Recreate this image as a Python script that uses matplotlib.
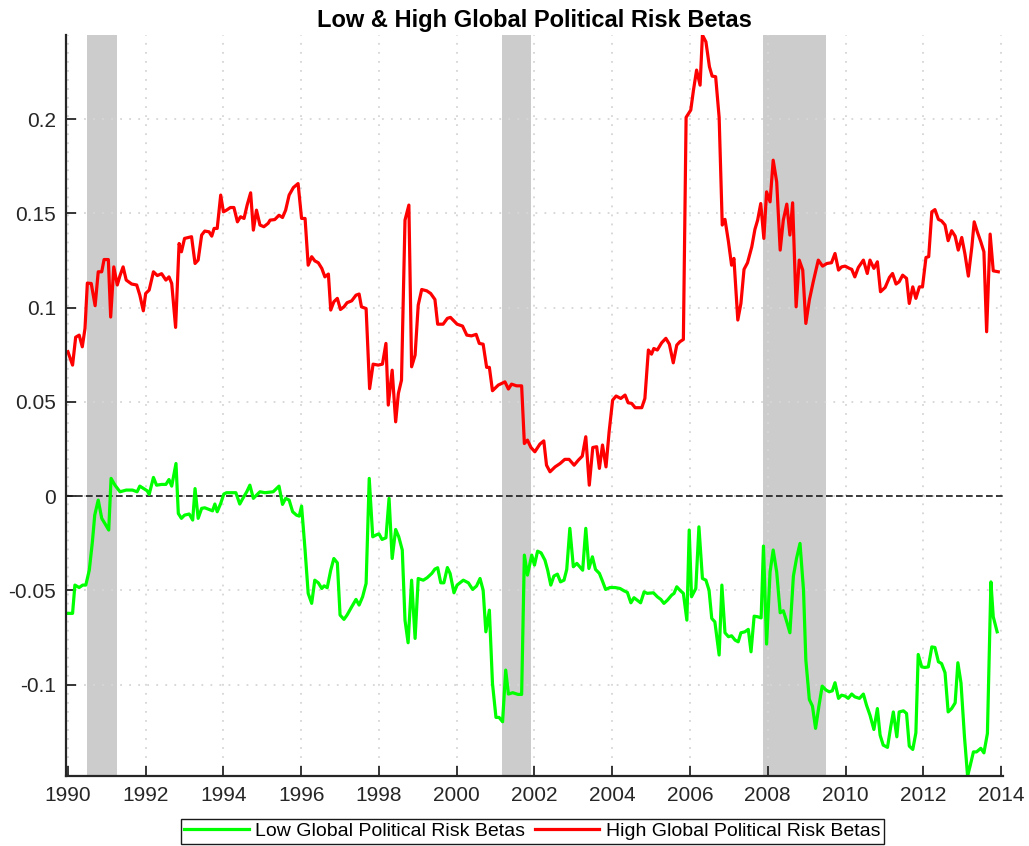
#!/usr/bin/env python3
# -*- coding: utf-8 -*-
"""
Low & High Global Political Risk Betas, 1990-2014
usage: python plot.py   (writes out.png)
"""

import matplotlib
matplotlib.use("Agg")
import matplotlib.pyplot as plt
import numpy as np

#-- Low global political risk betas (time in years, beta)
low_t = [1990.00, 1990.12, 1990.18, 1990.29, 1990.38, 1990.46, 1990.55, 1990.63, 1990.69, 1990.78,
         1990.87, 1990.95, 1991.05, 1991.11, 1991.21, 1991.34, 1991.50, 1991.66, 1991.78, 1991.85,
         1991.95, 1992.04, 1992.09, 1992.20, 1992.28, 1992.41, 1992.52, 1992.60, 1992.67, 1992.78,
         1992.84, 1992.92, 1993.00, 1993.12, 1993.21, 1993.27, 1993.35, 1993.44, 1993.52, 1993.63,
         1993.72, 1993.78, 1993.84, 1993.93, 1994.01, 1994.08, 1994.32, 1994.42, 1994.50, 1994.60,
         1994.68, 1994.77, 1994.85, 1994.94, 1995.07, 1995.28, 1995.43, 1995.52, 1995.60, 1995.69,
         1995.78, 1995.88, 1995.95, 1996.01, 1996.10, 1996.18, 1996.27, 1996.35, 1996.44, 1996.53,
         1996.59, 1996.67, 1996.76, 1996.84, 1996.93, 1997.00, 1997.10, 1997.18, 1997.30, 1997.41,
         1997.49, 1997.58, 1997.67, 1997.75, 1997.84, 1997.92, 1998.00, 1998.08, 1998.18, 1998.26,
         1998.34, 1998.43, 1998.51, 1998.60, 1998.67, 1998.75, 1998.84, 1998.93, 1999.01, 1999.14,
         1999.24, 1999.36, 1999.44, 1999.51, 1999.59, 1999.67, 1999.76, 1999.83, 1999.93, 2000.01,
         2000.17, 2000.30, 2000.41, 2000.51, 2000.60, 2000.68, 2000.75, 2000.84, 2000.92, 2001.01,
         2001.09, 2001.18, 2001.26, 2001.33, 2001.44, 2001.58, 2001.67, 2001.74, 2001.82, 2001.93,
         2002.00, 2002.08, 2002.17, 2002.27, 2002.34, 2002.42, 2002.50, 2002.59, 2002.67, 2002.76,
         2002.83, 2002.91, 2003.00, 2003.09, 2003.24, 2003.32, 2003.40, 2003.49, 2003.57, 2003.67,
         2003.74, 2003.83, 2003.94, 2004.07, 2004.20, 2004.30, 2004.39, 2004.48, 2004.56, 2004.64,
         2004.73, 2004.82, 2004.90, 2005.06, 2005.16, 2005.25, 2005.33, 2005.42, 2005.53, 2005.59,
         2005.66, 2005.74, 2005.83, 2005.92, 2005.98, 2006.04, 2006.15, 2006.23, 2006.32, 2006.41,
         2006.49, 2006.56, 2006.64, 2006.75, 2006.82, 2006.90, 2006.99, 2007.07, 2007.16, 2007.24,
         2007.31, 2007.41, 2007.50, 2007.57, 2007.65, 2007.74, 2007.83, 2007.89, 2007.97, 2008.06,
         2008.14, 2008.23, 2008.32, 2008.40, 2008.49, 2008.57, 2008.66, 2008.74, 2008.83, 2008.92,
         2008.98, 2009.07, 2009.15, 2009.23, 2009.32, 2009.40, 2009.50, 2009.58, 2009.66, 2009.73,
         2009.82, 2009.90, 2009.99, 2010.07, 2010.16, 2010.24, 2010.36, 2010.46, 2010.54, 2010.63,
         2010.73, 2010.82, 2010.89, 2010.97, 2011.08, 2011.16, 2011.23, 2011.32, 2011.38, 2011.49,
         2011.57, 2011.64, 2011.73, 2011.81, 2011.87, 2011.96, 2012.04, 2012.13, 2012.22, 2012.30,
         2012.39, 2012.47, 2012.56, 2012.64, 2012.73, 2012.82, 2012.89, 2012.97, 2013.06, 2013.14,
         2013.20, 2013.29, 2013.37, 2013.48, 2013.56, 2013.65, 2013.74, 2013.80, 2013.90]
low_beta = [-0.0622, -0.0622, -0.0472, -0.0485, -0.0472, -0.0472, -0.0393, -0.0242, -0.0101, -0.0021,
            -0.0118, -0.0145, -0.0180, 0.0094, 0.0058, 0.0023, 0.0032, 0.0032, 0.0023, 0.0053,
            0.0040, 0.0028, 0.0009, 0.0099, 0.0058, 0.0062, 0.0062, 0.0088, 0.0053, 0.0173,
            -0.0092, -0.0118, -0.0101, -0.0095, -0.0127, 0.0040, -0.0118, -0.0065, -0.0062, -0.0071,
            -0.0078, -0.0042, -0.0083, -0.0039, 0.0011, 0.0018, 0.0018, -0.0042, -0.0012, 0.0023,
            0.0058, -0.0012, 0.0005, 0.0023, 0.0018, 0.0023, 0.0053, -0.0044, -0.0012, -0.0021,
            -0.0083, -0.0101, -0.0106, -0.0053, -0.0286, -0.0516, -0.0569, -0.0446, -0.0460, -0.0490,
            -0.0476, -0.0486, -0.0393, -0.0331, -0.0354, -0.0631, -0.0654, -0.0631, -0.0587, -0.0548,
            -0.0578, -0.0534, -0.0463, 0.0094, -0.0216, -0.0207, -0.0200, -0.0230, -0.0221, -0.0012,
            -0.0331, -0.0177, -0.0216, -0.0286, -0.0658, -0.0778, -0.0446, -0.0755, -0.0437, -0.0446,
            -0.0433, -0.0410, -0.0387, -0.0380, -0.0460, -0.0460, -0.0379, -0.0410, -0.0513, -0.0472,
            -0.0446, -0.0460, -0.0495, -0.0477, -0.0437, -0.0499, -0.0720, -0.0605, -0.0994, -0.1174,
            -0.1174, -0.1197, -0.0923, -0.1050, -0.1043, -0.1052, -0.1052, -0.0313, -0.0419, -0.0313,
            -0.0366, -0.0292, -0.0301, -0.0340, -0.0393, -0.0472, -0.0424, -0.0414, -0.0455, -0.0446,
            -0.0389, -0.0171, -0.0375, -0.0357, -0.0393, -0.0171, -0.0384, -0.0322, -0.0389, -0.0410,
            -0.0446, -0.0495, -0.0485, -0.0485, -0.0490, -0.0502, -0.0511, -0.0566, -0.0539, -0.0552,
            -0.0566, -0.0508, -0.0516, -0.0513, -0.0534, -0.0548, -0.0569, -0.0552, -0.0525, -0.0516,
            -0.0481, -0.0499, -0.0516, -0.0658, -0.0180, -0.0534, -0.0490, -0.0163, -0.0437, -0.0446,
            -0.0499, -0.0649, -0.0667, -0.0843, -0.0472, -0.0725, -0.0746, -0.0741, -0.0764, -0.0773,
            -0.0725, -0.0720, -0.0707, -0.0826, -0.0637, -0.0640, -0.0646, -0.0265, -0.0785, -0.0402,
            -0.0286, -0.0402, -0.0619, -0.0608, -0.0667, -0.0725, -0.0424, -0.0331, -0.0251, -0.0499,
            -0.0870, -0.1079, -0.1114, -0.1232, -0.1109, -0.1008, -0.1029, -0.1038, -0.1033, -0.0990,
            -0.1073, -0.1056, -0.1061, -0.1073, -0.1050, -0.1065, -0.1073, -0.1050, -0.1109, -0.1162,
            -0.1238, -0.1127, -0.1268, -0.1321, -0.1333, -0.1228, -0.1145, -0.1277, -0.1145, -0.1139,
            -0.1153, -0.1326, -0.1344, -0.1256, -0.0840, -0.0906, -0.0909, -0.0906, -0.0800, -0.0803,
            -0.0879, -0.0888, -0.0937, -0.1145, -0.1127, -0.1097, -0.0884, -0.0990, -0.1277, -0.1485,
            -0.1436, -0.1357, -0.1357, -0.1338, -0.1362, -0.1259, -0.0455, -0.0640, -0.0720]

#-- High global political risk betas (time in years, beta)
high_t = [1990.00, 1990.12, 1990.20, 1990.29, 1990.37, 1990.44, 1990.50, 1990.60, 1990.70, 1990.78,
          1990.87, 1990.93, 1991.04, 1991.10, 1991.18, 1991.27, 1991.34, 1991.42, 1991.50, 1991.64,
          1991.77, 1991.85, 1991.94, 1992.00, 1992.09, 1992.20, 1992.30, 1992.41, 1992.52, 1992.60,
          1992.67, 1992.77, 1992.86, 1992.92, 1993.00, 1993.18, 1993.27, 1993.35, 1993.44, 1993.52,
          1993.63, 1993.70, 1993.76, 1993.84, 1993.93, 1994.00, 1994.08, 1994.18, 1994.27, 1994.36,
          1994.44, 1994.53, 1994.61, 1994.70, 1994.77, 1994.85, 1994.94, 1995.04, 1995.15, 1995.20,
          1995.32, 1995.43, 1995.52, 1995.60, 1995.69, 1995.80, 1995.92, 1996.01, 1996.10, 1996.18,
          1996.27, 1996.35, 1996.44, 1996.53, 1996.61, 1996.70, 1996.76, 1996.84, 1996.93, 1997.01,
          1997.10, 1997.18, 1997.30, 1997.41, 1997.49, 1997.55, 1997.67, 1997.76, 1997.85, 1997.98,
          1998.09, 1998.18, 1998.24, 1998.34, 1998.43, 1998.50, 1998.58, 1998.67, 1998.77, 1998.84,
          1998.93, 1999.01, 1999.10, 1999.23, 1999.33, 1999.44, 1999.51, 1999.65, 1999.76, 1999.84,
          2000.01, 2000.15, 2000.26, 2000.38, 2000.50, 2000.58, 2000.68, 2000.77, 2000.84, 2000.92,
          2001.07, 2001.24, 2001.33, 2001.41, 2001.54, 2001.67, 2001.74, 2001.82, 2001.91, 2002.01,
          2002.14, 2002.24, 2002.31, 2002.40, 2002.53, 2002.66, 2002.78, 2002.89, 2003.02, 2003.13,
          2003.23, 2003.32, 2003.41, 2003.50, 2003.60, 2003.67, 2003.75, 2003.84, 2003.92, 2004.01,
          2004.10, 2004.22, 2004.33, 2004.41, 2004.50, 2004.59, 2004.76, 2004.84, 2004.93, 2005.01,
          2005.07, 2005.16, 2005.27, 2005.38, 2005.47, 2005.57, 2005.66, 2005.74, 2005.83, 2005.90,
          2006.02, 2006.09, 2006.17, 2006.26, 2006.32, 2006.41, 2006.50, 2006.57, 2006.66, 2006.75,
          2006.83, 2006.90, 2006.99, 2007.07, 2007.13, 2007.23, 2007.31, 2007.39, 2007.48, 2007.59,
          2007.67, 2007.74, 2007.82, 2007.90, 2007.97, 2008.06, 2008.14, 2008.23, 2008.32, 2008.40,
          2008.49, 2008.57, 2008.64, 2008.73, 2008.81, 2008.90, 2008.98, 2009.07, 2009.17, 2009.30,
          2009.41, 2009.52, 2009.64, 2009.73, 2009.82, 2009.90, 2009.99, 2010.10, 2010.16, 2010.24,
          2010.33, 2010.46, 2010.56, 2010.63, 2010.73, 2010.82, 2010.90, 2011.02, 2011.13, 2011.21,
          2011.30, 2011.38, 2011.47, 2011.57, 2011.64, 2011.73, 2011.81, 2011.90, 2011.98, 2012.07,
          2012.14, 2012.22, 2012.30, 2012.39, 2012.47, 2012.56, 2012.64, 2012.73, 2012.82, 2012.90,
          2012.99, 2013.07, 2013.16, 2013.25, 2013.31, 2013.39, 2013.48, 2013.56, 2013.63, 2013.72,
          2013.80, 2013.93]
high_beta = [0.0766, 0.0695, 0.0843, 0.0854, 0.0792, 0.0890, 0.1130, 0.1128, 0.1010, 0.1190,
             0.1190, 0.1255, 0.1255, 0.0950, 0.1216, 0.1120, 0.1170, 0.1216, 0.1146, 0.1125,
             0.1120, 0.1066, 0.0983, 0.1075, 0.1093, 0.1190, 0.1170, 0.1180, 0.1146, 0.1163,
             0.1128, 0.0895, 0.1340, 0.1296, 0.1367, 0.1376, 0.1234, 0.1252, 0.1385, 0.1406,
             0.1402, 0.1379, 0.1420, 0.1420, 0.1597, 0.1508, 0.1517, 0.1531, 0.1531, 0.1455,
             0.1482, 0.1473, 0.1544, 0.1609, 0.1411, 0.1517, 0.1438, 0.1429, 0.1447, 0.1464,
             0.1467, 0.1490, 0.1478, 0.1517, 0.1597, 0.1637, 0.1658, 0.1473, 0.1473, 0.1225,
             0.1270, 0.1248, 0.1238, 0.1208, 0.1163, 0.1178, 0.0987, 0.1031, 0.1049, 0.0990,
             0.1004, 0.1026, 0.1036, 0.1066, 0.1072, 0.1004, 0.0995, 0.0570, 0.0700, 0.0695,
             0.0700, 0.0810, 0.0483, 0.0668, 0.0394, 0.0545, 0.0615, 0.1464, 0.1544, 0.0686,
             0.0748, 0.1013, 0.1096, 0.1089, 0.1075, 0.1043, 0.0912, 0.0912, 0.0943, 0.0948,
             0.0912, 0.0902, 0.0854, 0.0850, 0.0858, 0.0810, 0.0806, 0.0683, 0.0683, 0.0559,
             0.0589, 0.0606, 0.0568, 0.0594, 0.0585, 0.0585, 0.0279, 0.0297, 0.0258, 0.0235,
             0.0276, 0.0293, 0.0164, 0.0129, 0.0155, 0.0173, 0.0195, 0.0195, 0.0164, 0.0191,
             0.0212, 0.0315, 0.0058, 0.0258, 0.0262, 0.0147, 0.0271, 0.0155, 0.0341, 0.0509,
             0.0531, 0.0518, 0.0536, 0.0495, 0.0492, 0.0469, 0.0469, 0.0518, 0.0775, 0.0753,
             0.0783, 0.0775, 0.0813, 0.0837, 0.0806, 0.0707, 0.0801, 0.0819, 0.0831, 0.2009,
             0.2048, 0.2154, 0.2260, 0.2180, 0.2446, 0.2410, 0.2278, 0.2228, 0.2225, 0.2009,
             0.1438, 0.1468, 0.1349, 0.1225, 0.1261, 0.0934, 0.1022, 0.1203, 0.1238, 0.1323,
             0.1415, 0.1464, 0.1552, 0.1367, 0.1614, 0.1561, 0.1782, 0.1667, 0.1305, 0.1464,
             0.1549, 0.1385, 0.1556, 0.1004, 0.1252, 0.1199, 0.0916, 0.1040, 0.1137, 0.1252,
             0.1220, 0.1234, 0.1238, 0.1287, 0.1199, 0.1216, 0.1220, 0.1208, 0.1203, 0.1163,
             0.1213, 0.1252, 0.1181, 0.1252, 0.1208, 0.1243, 0.1084, 0.1107, 0.1160, 0.1181,
             0.1125, 0.1137, 0.1172, 0.1155, 0.1022, 0.1110, 0.1049, 0.1110, 0.1110, 0.1266,
             0.1270, 0.1508, 0.1520, 0.1468, 0.1460, 0.1438, 0.1355, 0.1408, 0.1379, 0.1305,
             0.1372, 0.1287, 0.1167, 0.1323, 0.1455, 0.1402, 0.1349, 0.1296, 0.0872, 0.1390,
             0.1195, 0.1190]

#-- NBER recessions (start, end) shaded in grey
rec_start = [1990.50, 2001.17, 2007.88]
rec_end = [1991.25, 2001.92, 2009.50]

#-- Tick marks and labels
xticks = list(range(1990, 2015, 2))
yticks = [-0.1, -0.05, 0, 0.05, 0.1, 0.15, 0.2]
ytick_labels = ['-0.1', '-0.05', '0', '0.05', '0.1', '0.15', '0.2']

#-- Font and frame
plt.rcParams['font.family'] = ['Liberation Sans', 'DejaVu Sans']
axcol = '#262626'

fig = plt.figure(figsize=(10.29, 8.46), dpi=100)
ax = fig.add_axes([0.0641, 0.0827, 0.9106, 0.8759])

#-- recession bars (behind grid)
for a, b in zip(rec_start, rec_end):
    ax.axvspan(a, b, color='#cccccc', lw=0, zorder=0.2)

#-- zero line
ax.axhline(0, color='#1a1a1a', lw=1.2, ls=(0, (4, 2)), zorder=1.5)

#-- betas
ax.plot(low_t, low_beta, color='#00ff00', lw=2.3, label='Low Global Political Risk Betas', zorder=2)
ax.plot(high_t, high_beta, color='#ff0000', lw=2.3, label='High Global Political Risk Betas', zorder=2.1)

ax.set_xlim(1989.95, 2014.05)
ax.set_ylim(-0.1485, 0.2446)
ax.set_xticks(xticks)
ax.set_xticklabels([str(x) for x in xticks])
ax.set_yticks(yticks)
ax.set_yticklabels(ytick_labels)

#-- dotted grid on top of shading
ax.set_axisbelow(True)
ax.grid(True, color='#d6d6d6', lw=1.3, ls=(0, (1, 4)))

for s in ['top', 'right']:
    ax.spines[s].set_visible(False)
for s in ['left', 'bottom']:
    ax.spines[s].set_linewidth(1.6)
    ax.spines[s].set_color(axcol)
ax.tick_params(direction='in', length=7, width=1.3, colors=axcol,
               labelsize=15, pad=7)

ax.set_title('Low & High Global Political Risk Betas', fontsize=17,
             fontweight='bold', pad=6)

fig.legend(loc='upper center', bbox_to_anchor=(0.5175, 0.0325), ncol=2,
           fontsize=14, frameon=True, fancybox=False, edgecolor='#1a1a1a',
           framealpha=1, handlelength=3.3, handletextpad=0.35,
           columnspacing=0.5, borderpad=0.2, borderaxespad=0)

fig.savefig('out.png', dpi=100)
